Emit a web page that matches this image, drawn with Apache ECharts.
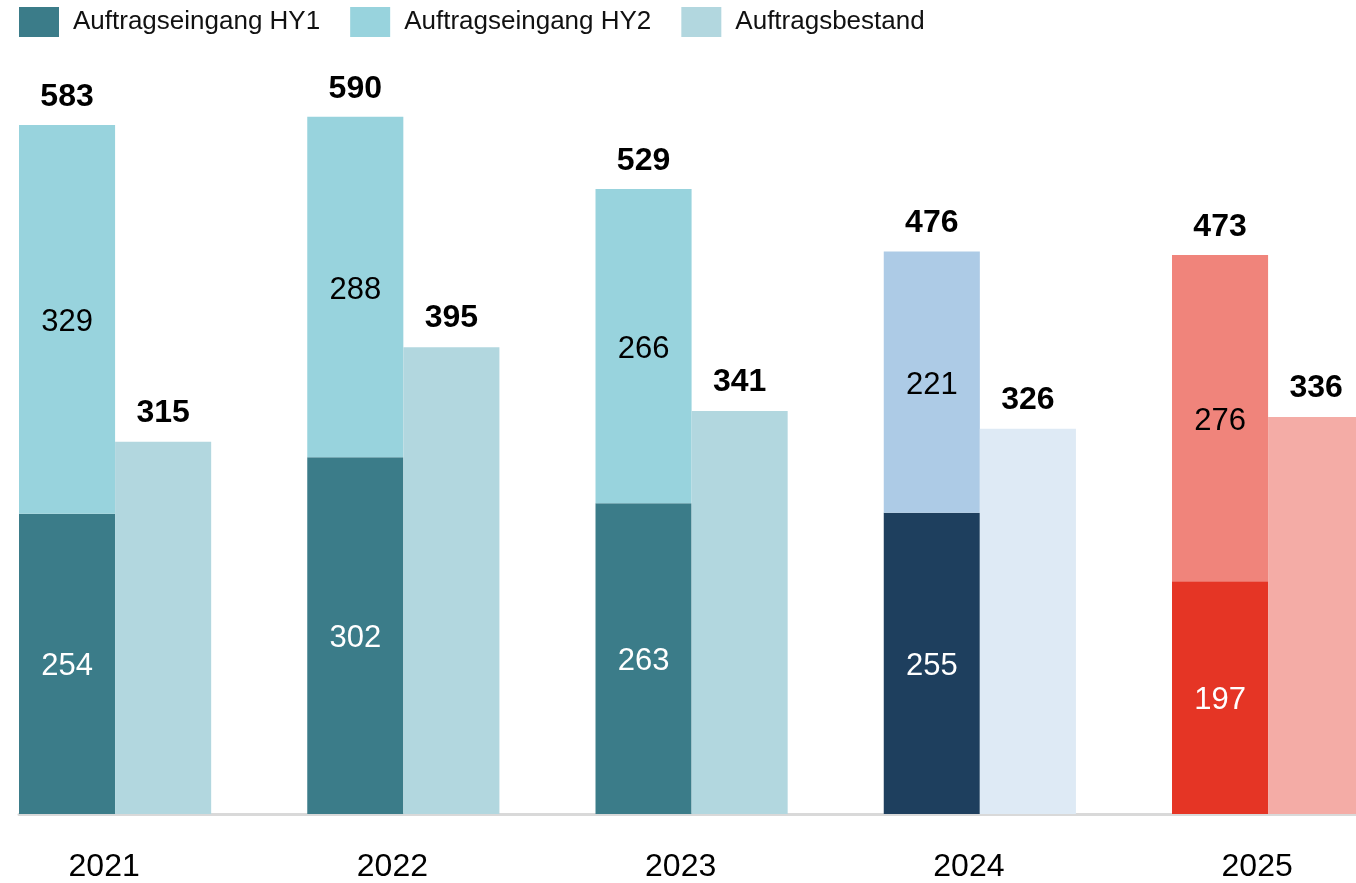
<!DOCTYPE html>
<html>
<head>
<meta charset="utf-8">
<script src="https://cdn.jsdelivr.net/npm/echarts@6/dist/echarts.min.js"></script>
<style>
html,body{margin:0;padding:0;background:#fff;}
#chart{width:1356px;height:883px;}
</style>
</head>
<body>
<div id="chart"></div>
<script>
// ---- data ----
const years = ['2021', '2022', '2023', '2024', '2025'];
const hy1 = [254, 302, 263, 255, 197];
const hy2 = [329, 288, 266, 221, 276];
const totals = [583, 590, 529, 476, 473];
const bestand = [315, 395, 341, 326, 336];
const seriesNames = ['Auftragseingang HY1', 'Auftragseingang HY2', 'Auftragsbestand'];

// ---- styles ----
const palette = {
  hy1: ['#3B7C89', '#3B7C89', '#3B7C89', '#1E3F5E', '#E53525'],
  hy2: ['#98D3DD', '#98D3DD', '#98D3DD', '#ADCBE6', '#F0847B'],
  bestand: ['#B2D7DF', '#B2D7DF', '#B2D7DF', '#DEEAF5', '#F4ACA6']
};
const FONT = '"Liberation Sans", Arial, sans-serif';
const BW = 96.08;

function colored(vals, cols) {
  return vals.map((v, i) => ({ value: v, itemStyle: { color: cols[i] } }));
}

const chart = echarts.init(document.getElementById('chart'), null, { renderer: 'canvas' });
chart.setOption({
  animation: false,
  backgroundColor: '#fff',
  textStyle: { fontFamily: FONT },
  legend: {
    data: seriesNames,
    left: 19, top: 7, padding: 0,
    itemWidth: 40, itemHeight: 30, itemGap: 30,
    icon: 'rect',
    textStyle: { fontSize: 26, color: '#111', fontFamily: FONT, padding: [0, 0, 0, 9] }
  },
  grid: { left: 19, top: 105, bottom: 69, width: 1441.25, outerBoundsMode: 'none', containLabel: false },
  xAxis: {
    type: 'category',
    data: years,
    axisLine: { show: true, lineStyle: { color: '#D9D9D9', width: 3 } },
    axisTick: { show: false },
    axisLabel: {
      fontSize: 32, color: '#000', fontFamily: FONT,
      margin: 37,
      padding: [0, 118, 0, 0]
    }
  },
  yAxis: { type: 'value', min: 0, max: 600, show: false, splitLine: { show: false } },
  series: [
    {
      name: seriesNames[0], type: 'bar', stack: 'in', barWidth: BW, clip: false,
      data: colored(hy1, palette.hy1),
      itemStyle: { color: palette.hy1[0] },
      label: { show: true, position: 'inside', offset: [0, 3], color: '#fff', fontSize: 31, fontFamily: FONT }
    },
    {
      name: seriesNames[1], type: 'bar', stack: 'in', barWidth: BW, clip: false,
      data: colored(hy2, palette.hy2),
      itemStyle: { color: palette.hy2[0] },
      label: { show: true, position: 'inside', offset: [0, 3], color: '#000', fontSize: 31, fontFamily: FONT }
    },
    {
      name: 'total', type: 'bar', stack: 'in', barWidth: BW, clip: false,
      data: totals.map(() => 0),
      itemStyle: { color: 'rgba(0,0,0,0)' },
      silent: true,
      label: {
        show: true, position: 'top', distance: 12, color: '#000', fontSize: 32, fontWeight: 'bold', fontFamily: FONT,
        formatter: p => String(totals[p.dataIndex])
      }
    },
    {
      name: seriesNames[2], type: 'bar', barWidth: BW, clip: false,
      data: colored(bestand, palette.bestand),
      itemStyle: { color: palette.bestand[0] },
      label: { show: true, position: 'top', distance: 13, color: '#000', fontSize: 32, fontWeight: 'bold', fontFamily: FONT }
    },
    {
      name: 'spacer', type: 'bar', barWidth: BW, barGap: '0%', barCategoryGap: '0%', clip: false,
      data: years.map(() => 0),
      itemStyle: { color: 'rgba(0,0,0,0)' },
      silent: true,
      label: { show: false }
    }
  ]
});
</script>
</body>
</html>
